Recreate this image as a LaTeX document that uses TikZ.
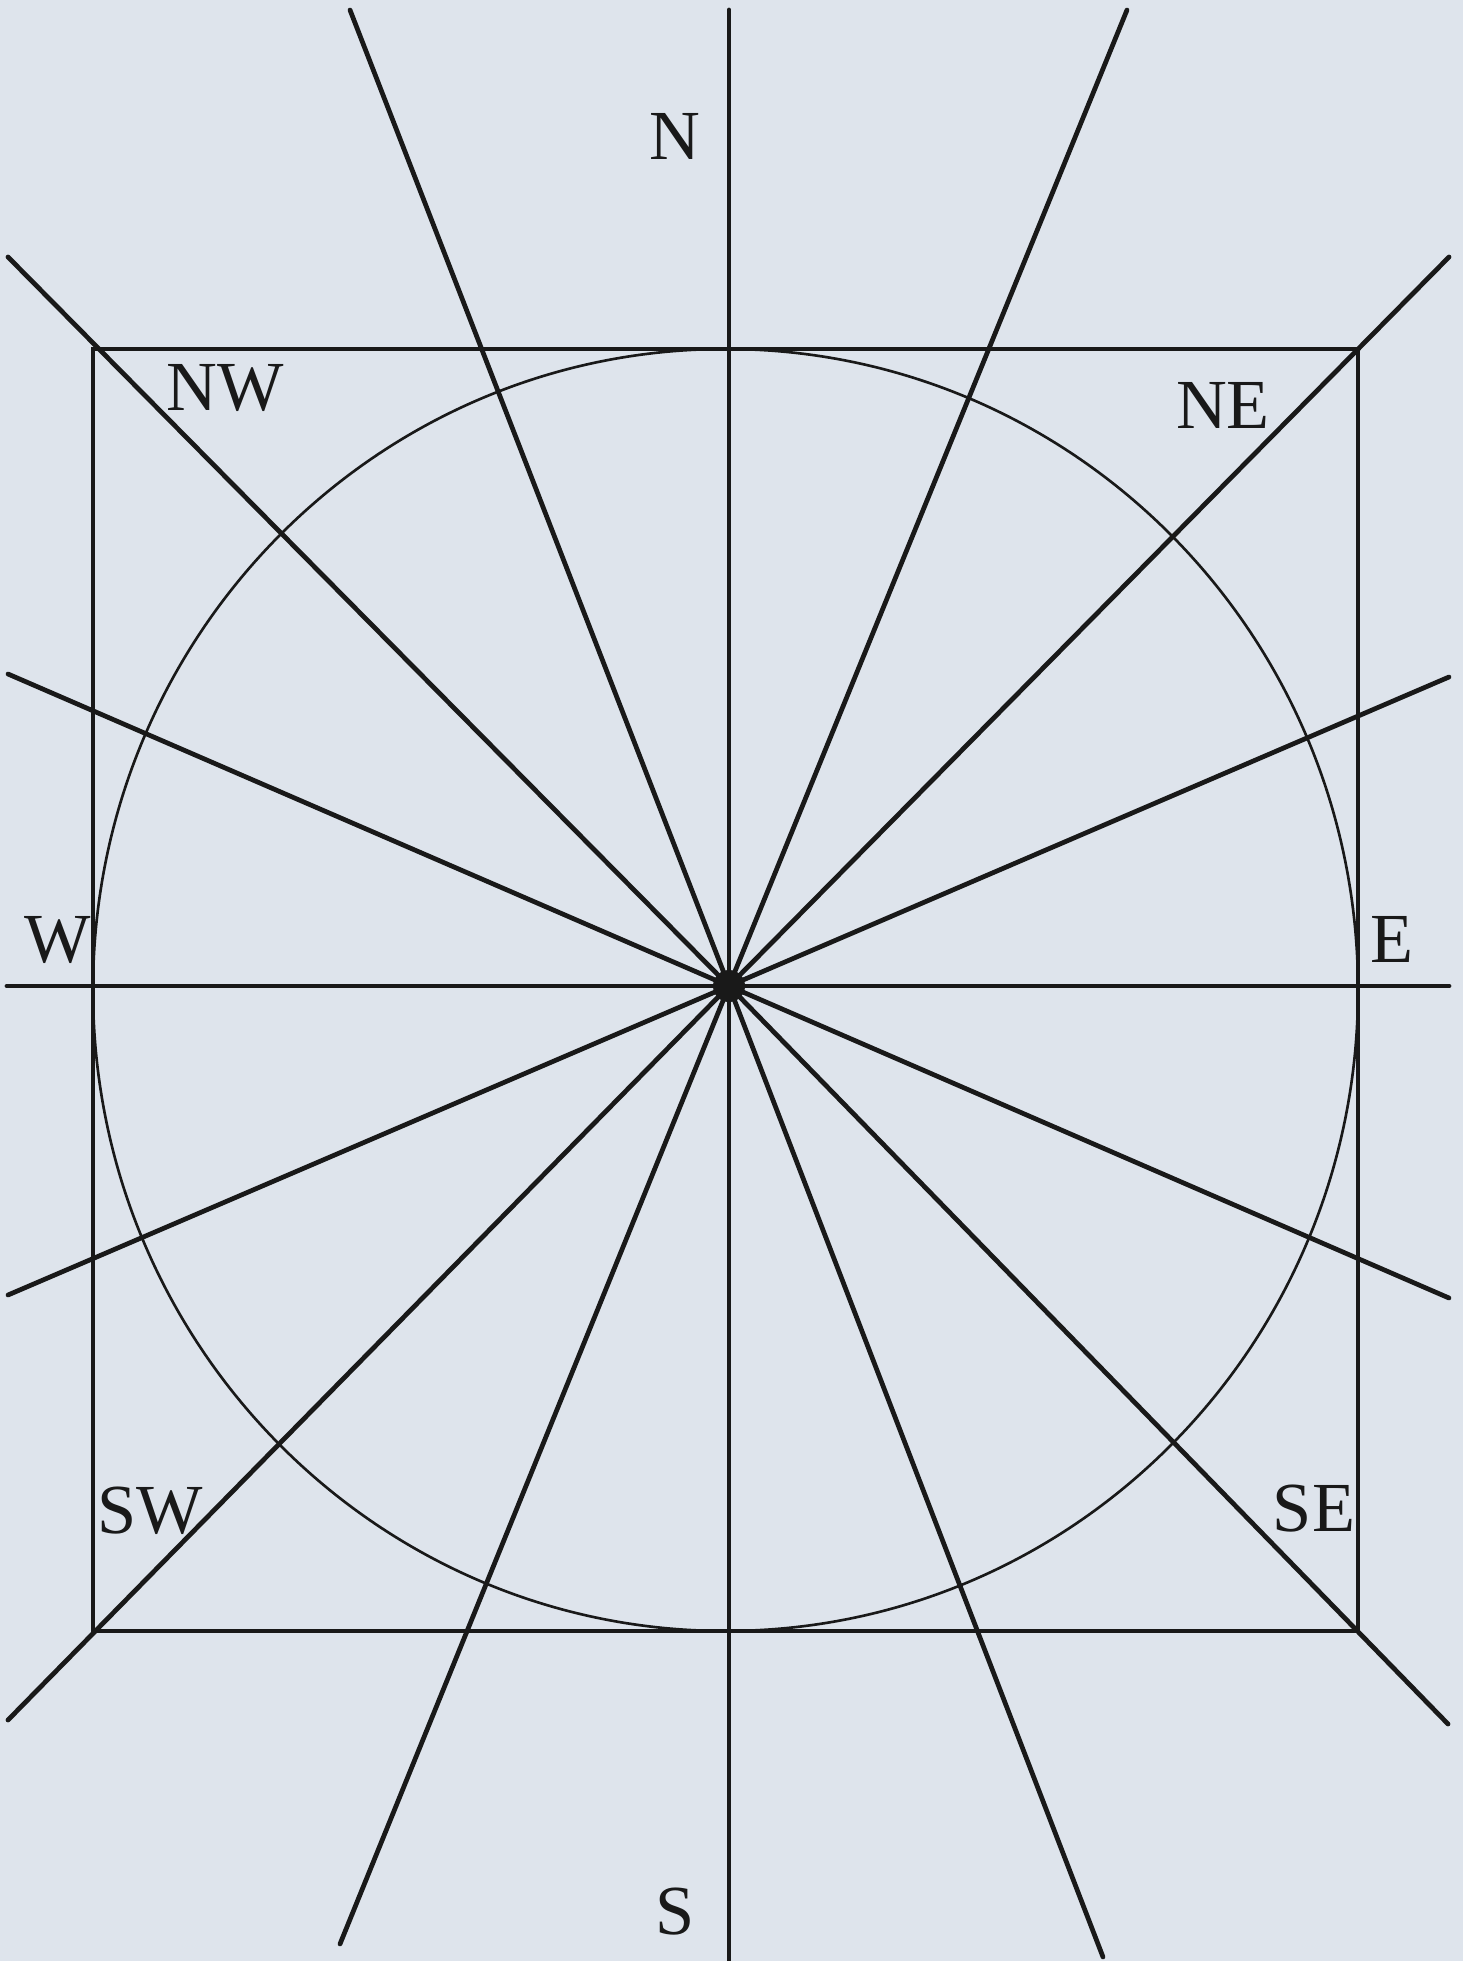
\documentclass[tikz,border=0pt]{standalone}
\usepackage{fontspec}
\setmainfont{Liberation Serif}
\begin{document}
\begin{tikzpicture}[x=0.01cm,y=-0.01cm,
  spoke/.style={line width=1.35pt,line cap=round,black!90},
  frame/.style={line width=0.9pt,black!90},
  ring/.style={line width=0.75pt,black!90},
  dir/.style={font=\fontsize{20}{24}\selectfont,inner sep=0pt,text=black!90}]
\fill[fill={rgb,255:red,222;green,228;blue,236}] (0,0) rectangle (1463,1961);
\useasboundingbox (0,0) rectangle (1463,1961);
% centre and spoke ends
\coordinate (C) at (729,986);
\coordinate (pN) at (729,10);
\coordinate (pS) at (729,1961);
\coordinate (pW) at (7,986);
\coordinate (pE) at (1449,986);
\coordinate (pNW) at (8,257);
\coordinate (pSE) at (1448,1724);
\coordinate (pNE) at (1449,257);
\coordinate (pSW) at (8,1720);
\coordinate (pNNW) at (350,10);
\coordinate (pSSE) at (1103,1957);
\coordinate (pNNE) at (1127,10);
\coordinate (pSSW) at (340,1944);
\coordinate (pWNW) at (8,674);
\coordinate (pESE) at (1449,1298);
\coordinate (pENE) at (1449,677);
\coordinate (pWSW) at (8,1295);
% square and circle
\draw[frame] (93,349) rectangle (1358,1631);
\draw[ring] (725.5,990) ellipse [x radius=632.5, y radius=641];
% spokes
\foreach \p in {pN,pS,pW,pE,pNW,pSE,pNE,pSW,pNNW,pSSE,pNNE,pSSW,pWNW,pESE,pENE,pWSW}
  \draw[spoke] (C) -- (\p);
\fill[black!90] (C) circle [radius=16];
% labels
\node[dir] (lN) at (675,136) {N};
\node[dir] (lS) at (675,1912) {S};
\node[dir] (lW) at (58,940) {W};
\node[dir] (lE) at (1392,939) {E};
\node[dir] (lNW) at (225,388) {NW};
\node[dir] (lNE) at (1223,405) {NE};
\node[dir] (lSW) at (150,1511) {SW};
\node[dir] (lSE) at (1314,1509) {SE};
\end{tikzpicture}
\end{document}
